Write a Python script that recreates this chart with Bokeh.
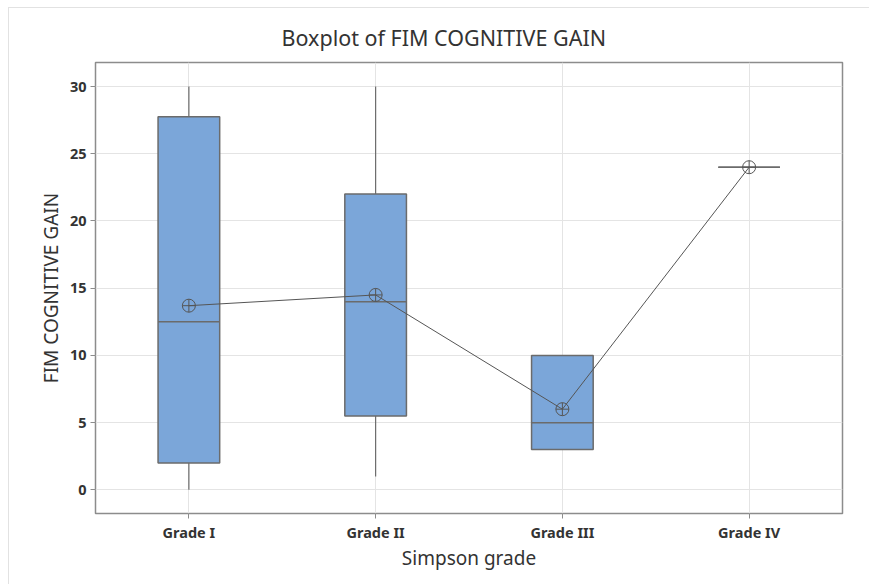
from bokeh.plotting import figure
from bokeh.models import FixedTicker, ColumnDataSource
from bokeh.embed import file_html
from bokeh.resources import INLINE

# Summary statistics of FIM cognitive gain per Simpson grade
grades = ["Grade I", "Grade II", "Grade III", "Grade IV"]
positions = [1, 2, 3, 4]
whisker_low = [0, 1, 3, 24]
q1 = [2, 5.5, 3, 24]
median = [12.5, 14, 5, 24]
q3 = [27.75, 22, 10, 24]
whisker_high = [30, 30, 10, 24]
mean = [13.7, 14.5, 6, 24]

y_ticks = [0, 5, 10, 15, 20, 25, 30]

BOX_W = 0.33
FONT = "Noto Sans"
TEXT = "#333333"
EDGE = "#6b6b6b"

src = ColumnDataSource(dict(
    x=positions, lo=whisker_low, q1=q1, med=median, q3=q3, hi=whisker_high,
    mean=mean,
    x0=[p - BOX_W / 2 for p in positions],
    x1=[p + BOX_W / 2 for p in positions],
))

p = figure(
    width=861, height=577,
    x_range=(0.5, 4.5), y_range=(-1.76, 31.79),
    output_backend="svg", toolbar_location=None,
    min_border_left=86, min_border_right=28,
    min_border_top=54, min_border_bottom=72,
)
p.styles = {
    "margin-left": "8px", "margin-top": "7px",
    "border-left": "1px solid #e2e2e2", "border-top": "1px solid #e2e2e2",
}

p.title.text = "Boxplot of FIM COGNITIVE GAIN"
p.title.align = "left"
p.title.offset = 186
p.title.text_font = FONT
p.title.text_font_size = "21.5px"
p.title.text_font_style = "normal"
p.title.text_color = TEXT
p.title.standoff = 21

p.outline_line_color = "#8c8c8c"
p.outline_line_width = 1.5
p.background_fill_color = "white"
p.border_fill_color = "white"

# grid
p.xgrid.ticker = FixedTicker(ticks=positions)
p.ygrid.ticker = FixedTicker(ticks=y_ticks)
for g in (p.xgrid, p.ygrid):
    g.grid_line_color = "#e4e4e4"
    g.grid_line_width = 1

# axes
p.xaxis.ticker = FixedTicker(ticks=positions)
p.xaxis.major_label_overrides = {pos: g for pos, g in zip(positions, grades)}
p.yaxis.ticker = FixedTicker(ticks=y_ticks)
p.xaxis.axis_label = "Simpson grade"
p.yaxis.axis_label = "FIM COGNITIVE GAIN"
for ax in (p.xaxis, p.yaxis):
    ax.axis_line_color = None
    ax.major_tick_line_color = "#8c8c8c"
    ax.major_tick_out = 5
    ax.major_tick_in = 0
    ax.minor_tick_line_color = None
    ax.major_label_text_font = FONT
    ax.major_label_text_font_size = "14.5px"
    ax.major_label_text_font_style = "bold"
    ax.major_label_text_color = TEXT
    ax.axis_label_text_font = FONT
    ax.axis_label_text_font_size = "19px"
    ax.axis_label_text_font_style = "normal"
    ax.axis_label_text_color = TEXT
p.xaxis.major_label_standoff = 3
p.xaxis.axis_label_standoff = 0
p.yaxis.major_label_standoff = 4
p.yaxis.axis_label_standoff = 3

# whiskers
p.segment(x0="x", y0="lo", x1="x", y1="q1", source=src, line_color=EDGE, line_width=1.2)
p.segment(x0="x", y0="q3", x1="x", y1="hi", source=src, line_color=EDGE, line_width=1.2)

# boxes
p.vbar(x="x", width=BOX_W, bottom="q1", top="q3", source=src,
       fill_color="#7BA6D9", line_color=EDGE, line_width=1.5)

# medians
p.segment(x0="x0", y0="med", x1="x1", y1="med", source=src, line_color=EDGE, line_width=1.5)

# mean connect line and mean symbols
p.line(x="x", y="mean", source=src, line_color="#555555", line_width=1)
p.scatter(x="x", y="mean", source=src, marker="circle_cross", size=13,
          fill_color=None, line_color="#555555", line_width=1)

open("out.html", "w").write(file_html(p, INLINE))
